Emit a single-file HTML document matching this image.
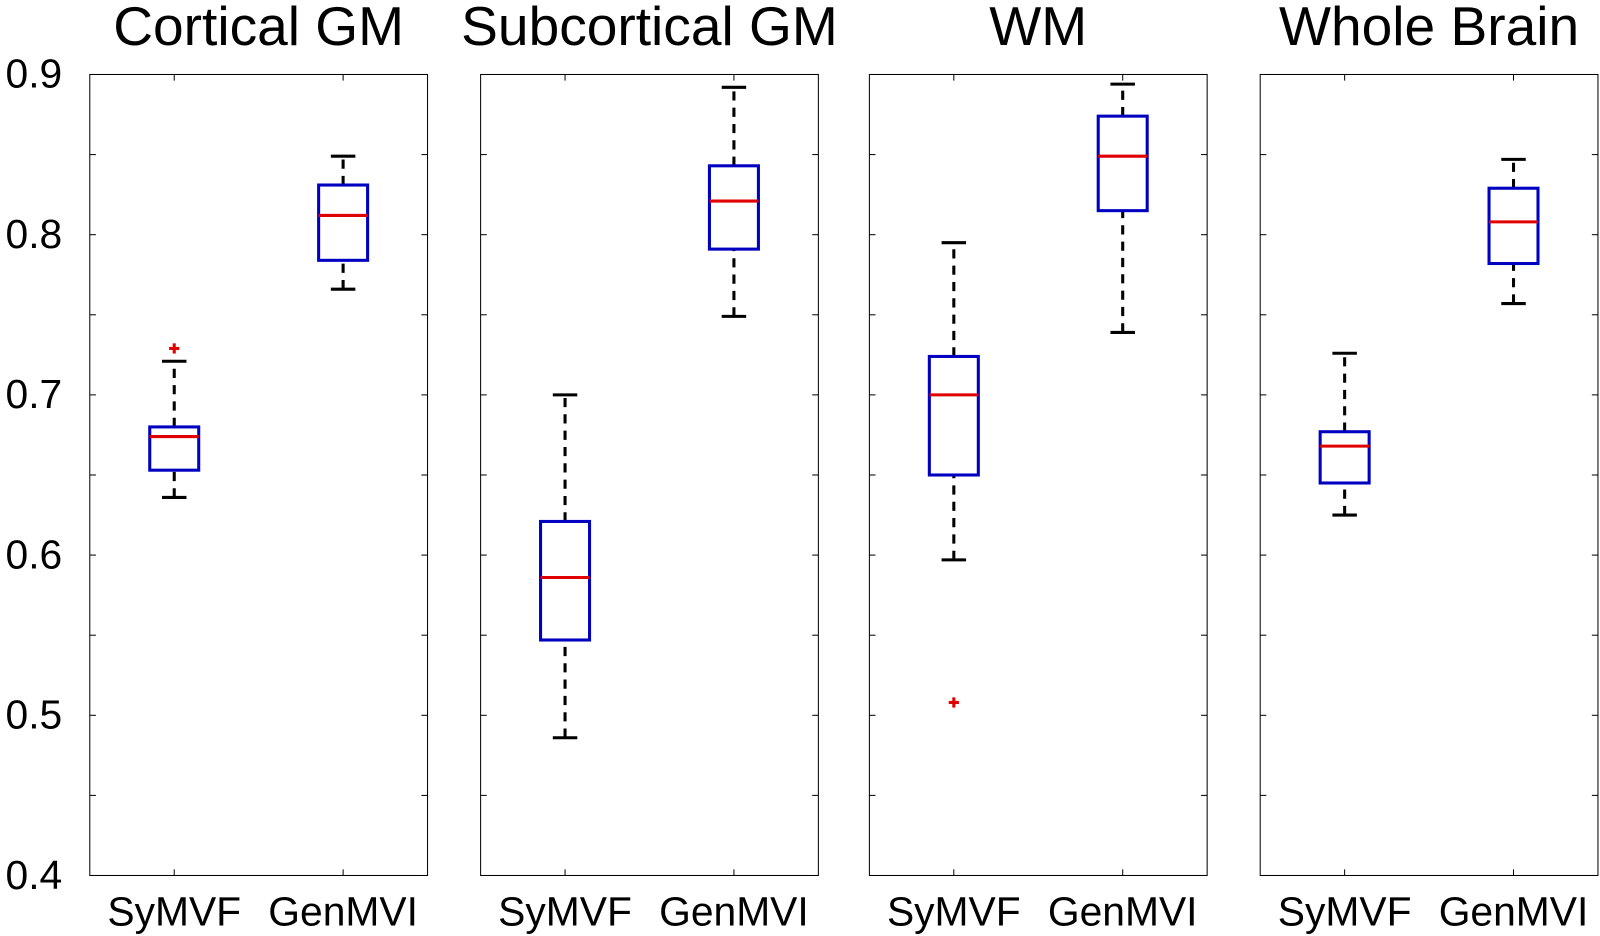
<!DOCTYPE html>
<html><head><meta charset="utf-8"><style>
html,body{margin:0;padding:0;background:#fff;}
svg{display:block;font-family:"Liberation Sans",Arial,sans-serif;}
</style></head><body>
<svg id="chart" width="1600" height="936" viewBox="0 0 1568 917.3" preserveAspectRatio="none"></svg>
<script>
const panelTitles = ["Cortical GM","Subcortical GM","WM","Whole Brain"];
const groups = ["SyMVF","GenMVI"];
// [whiskerLow, q1, median, q3, whiskerHigh] per panel per group
const statsSyMVF = [
  [0.636,0.653,0.674,0.680,0.721],
  [0.486,0.547,0.586,0.621,0.700],
  [0.597,0.650,0.700,0.724,0.795],
  [0.625,0.645,0.668,0.677,0.726]
];
const statsGenMVI = [
  [0.766,0.784,0.812,0.831,0.849],
  [0.749,0.791,0.821,0.843,0.892],
  [0.739,0.815,0.849,0.874,0.894],
  [0.757,0.782,0.808,0.829,0.847]
];
const outliersSyMVF = [[0.729],[],[0.508],[]];
const outliersGenMVI = [[],[],[],[]];
const yTickLabels = ["0.4","0.5","0.6","0.7","0.8","0.9"];
const yTickValues = [0.4,0.45,0.5,0.55,0.6,0.65,0.7,0.75,0.8,0.85,0.9];

const svg = document.getElementById('chart');
const NS = "http://www.w3.org/2000/svg";
const panelLefts = [88,471,852,1235];
const panelW = 331, plotTop = 73, plotBottom = 858;
const yMin = 0.4, yMax = 0.9;
function yScale(v){ return plotBottom - (v - yMin)/(yMax - yMin)*(plotBottom - plotTop); }
function mk(tag, attrs, parent){
  const e = document.createElementNS(NS, tag);
  for (const k in attrs) e.setAttribute(k, attrs[k]);
  (parent||svg).appendChild(e);
  return e;
}

panelTitles.forEach((title, p) => {
  const L = panelLefts[p];
  const g = mk('g', {});
  
  
  const frame = mk('rect', {x:L, y:plotTop, width:panelW, height:plotBottom-plotTop, fill:'none', stroke:'#000', 'stroke-width':1}, g);
  
  
  const t = mk('text', {x:L+panelW/2, y:44, 'text-anchor':'middle', 'font-size':54, fill:'#000'}, g);
  t.textContent = title;
  
  
  yTickValues.forEach(v => {
    const yy = yScale(v);
    mk('line', {x1:L, x2:L+6, y1:yy, y2:yy, stroke:'#000', 'stroke-width':1}, g);
    mk('line', {x1:L+panelW-6, x2:L+panelW, y1:yy, y2:yy, stroke:'#000', 'stroke-width':1}, g);
  });
  if (p === 0) {
    yTickLabels.forEach(s => {
      const tl = mk('text', {x:61, y:yScale(parseFloat(s))+13, 'text-anchor':'end', 'font-size':40, fill:'#000'}, g);
      tl.textContent = s;
      
      
    });
  }
  groups.forEach((grp, gi) => {
    const cx = L + panelW*(gi===0?0.25:0.75);
    mk('line', {x1:cx, x2:cx, y1:plotBottom, y2:plotBottom-6, stroke:'#000', 'stroke-width':1}, g);
    mk('line', {x1:cx, x2:cx, y1:plotTop, y2:plotTop+6, stroke:'#000', 'stroke-width':1}, g);
    const xl = mk('text', {x:cx, y:907, 'text-anchor':'middle', 'font-size':40, fill:'#000'}, g);
    xl.textContent = grp;
    
    
    const s = (gi===0?statsSyMVF:statsGenMVI)[p];
    const bg = mk('g', {}, g);
    
    
    const hw = 24, cw = 12;
    mk('line', {x1:cx, x2:cx, y1:yScale(s[0]), y2:yScale(s[1]), stroke:'#000', 'stroke-width':3, 'stroke-dasharray':'9,7'}, bg);
    mk('line', {x1:cx, x2:cx, y1:yScale(s[3]), y2:yScale(s[4]), stroke:'#000', 'stroke-width':3, 'stroke-dasharray':'9,7'}, bg);
    mk('line', {x1:cx-cw, x2:cx+cw, y1:yScale(s[0]), y2:yScale(s[0]), stroke:'#000', 'stroke-width':3}, bg);
    mk('line', {x1:cx-cw, x2:cx+cw, y1:yScale(s[4]), y2:yScale(s[4]), stroke:'#000', 'stroke-width':3}, bg);
    mk('rect', {x:cx-hw, y:yScale(s[3]), width:hw*2, height:yScale(s[1])-yScale(s[3]), fill:'#fff', stroke:'#0000c0', 'stroke-width':3}, bg);
    mk('line', {x1:cx-hw, x2:cx+hw, y1:yScale(s[2]), y2:yScale(s[2]), stroke:'#e00000', 'stroke-width':3}, bg);
    (gi===0?outliersSyMVF:outliersGenMVI)[p].forEach(o => {
      const oy = yScale(o);
      const og = mk('g', {}, bg);
      
      
      mk('line', {x1:cx-5, x2:cx+5, y1:oy, y2:oy, stroke:'#e00000', 'stroke-width':3}, og);
      mk('line', {x1:cx, x2:cx, y1:oy-5, y2:oy+5, stroke:'#e00000', 'stroke-width':3}, og);
    });
  });
});
</script>
</body></html>
